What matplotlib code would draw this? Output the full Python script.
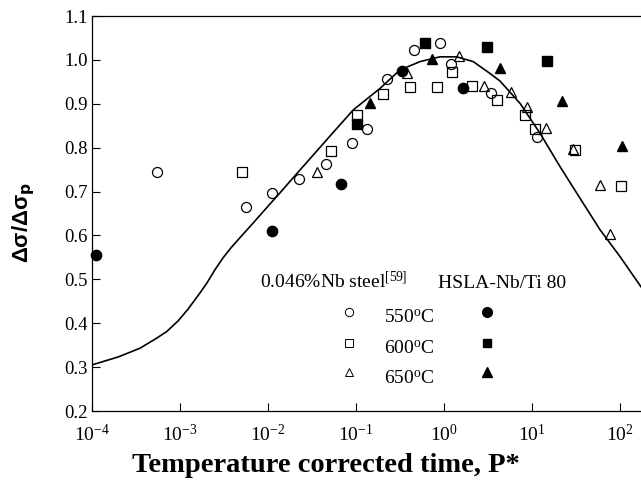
import numpy as np
import matplotlib
matplotlib.use("Agg")
import matplotlib.pyplot as plt
from matplotlib.ticker import FixedLocator, LogFormatterMathtext, NullLocator, FormatStrFormatter

plt.rcParams['font.family'] = ['Liberation Serif', 'DejaVu Serif']
plt.rcParams['mathtext.fontset'] = 'custom'
plt.rcParams['mathtext.rm'] = 'Liberation Serif'
plt.rcParams['mathtext.it'] = 'Liberation Serif:italic'
plt.rcParams['mathtext.bf'] = 'Liberation Serif:bold'

# ---- data: 0.046%Nb steel (open markers) ----
nb550_p = [5.5e-4, 5.6e-3, 0.0112, 0.0223, 0.0453, 0.090, 0.134, 0.227, 0.452, 0.908, 1.20, 3.40, 11.3]
nb550_r = [0.744, 0.664, 0.696, 0.728, 0.762, 0.810, 0.843, 0.956, 1.022, 1.038, 0.991, 0.924, 0.825]

nb600_p = [5.1e-3, 0.0515, 0.1035, 0.204, 0.411, 0.826, 1.23, 2.08, 4.05, 8.3, 10.9, 30.8, 103.5]
nb600_r = [0.744, 0.793, 0.874, 0.923, 0.939, 0.939, 0.973, 0.940, 0.908, 0.874, 0.843, 0.795, 0.713]

nb650_p = [0.036, 0.376, 1.47, 2.85, 5.77, 8.85, 14.4, 29.4, 59.3, 77.0]
nb650_r = [0.744, 0.971, 1.009, 0.941, 0.927, 0.893, 0.845, 0.796, 0.716, 0.603]

# ---- data: HSLA-Nb/Ti 80 (filled markers) ----
hs550_p = [1.1e-4, 0.0111, 0.0676, 0.336, 1.63]
hs550_r = [0.555, 0.610, 0.717, 0.9745, 0.935]

hs600_p = [0.102, 0.614, 3.10, 14.9]
hs600_r = [0.854, 1.0376, 1.0285, 0.997]

hs650_p = [0.144, 0.73, 4.33, 21.9, 105.0]
hs650_r = [0.901, 1.003, 0.982, 0.907, 0.804]

# ---- model curve (log10 P*, ratio) ----
curve_log10p = [-4.0, -3.705, -3.455, -3.265, -3.151, -3.023, -2.909, -2.773, -2.693, -2.602,
                -2.511, -2.42, -2.318, -2.170, -2.011, -1.864, -1.716, -1.5, -1.333,
                -1.182, -1.031, -0.727, -0.5, -0.273, -0.045, 0.144, 0.333, 0.523, 0.636,
                0.864, 1.091, 1.318, 1.545, 1.773, 2.0, 2.239]
curve_r = [0.305, 0.323, 0.343, 0.366, 0.381, 0.405, 0.432, 0.469, 0.492, 0.522,
           0.549, 0.572, 0.595, 0.628, 0.664, 0.697, 0.731, 0.780, 0.818,
           0.852, 0.886, 0.935, 0.977, 0.996, 1.007, 1.007, 0.996, 0.969, 0.952,
           0.901, 0.833, 0.757, 0.685, 0.613, 0.552, 0.483]

xticks = [1e-4, 1e-3, 1e-2, 1e-1, 1e0, 1e1, 1e2]
yticks = [0.2, 0.3, 0.4, 0.5, 0.6, 0.7, 0.8, 0.9, 1.0, 1.1]
series_labels = ['550$^{\\mathrm{o}}$C', '600$^{\\mathrm{o}}$C', '650$^{\\mathrm{o}}$C']

W, H = 641, 487
fig = plt.figure(figsize=(W / 100, H / 100), dpi=100)

def fx(x):
    return x / W

def fy(y):
    return 1 - y / H

ax = fig.add_axes([fx(92), fy(411), fx(641) - fx(92), fy(16) - fy(411)])
ax.set_xscale('log')
ax.set_xlim(1e-4, 10 ** 2.239)
ax.set_ylim(0.2, 1.1)

lw_m = 0.9
ax.plot(nb550_p, nb550_r, 'o', ms=7.2, mfc='none', mec='black', mew=lw_m, clip_on=False)
ax.plot(nb600_p, nb600_r, 's', ms=6.6, mfc='none', mec='black', mew=lw_m, clip_on=False)
ax.plot(nb650_p, nb650_r, '^', ms=7.4, mfc='none', mec='black', mew=lw_m, clip_on=False)
ax.plot(hs550_p, hs550_r, 'o', ms=7.4, mfc='black', mec='black', clip_on=False)
ax.plot(hs600_p, hs600_r, 's', ms=6.8, mfc='black', mec='black', clip_on=False)
ax.plot(hs650_p, hs650_r, '^', ms=7.6, mfc='black', mec='black', clip_on=False)
ax.plot(10 ** np.array(curve_log10p), curve_r, '-', color='black', lw=1.2)

ax.xaxis.set_major_locator(FixedLocator(xticks))
ax.xaxis.set_major_formatter(LogFormatterMathtext())
ax.xaxis.set_minor_locator(NullLocator())
ax.yaxis.set_major_locator(FixedLocator(yticks))
ax.yaxis.set_major_formatter(FormatStrFormatter('%.1f'))
ax.tick_params(axis='x', direction='in', length=5.5, width=0.8, pad=9, labelsize=14)
ax.tick_params(axis='y', direction='in', length=5.5, width=0.8, pad=3, labelsize=13.5)
ax.spines['right'].set_visible(False)
for s in ['left', 'bottom', 'top']:
    ax.spines[s].set_linewidth(0.9)

# axis labels
fig.text(fx(326), fy(466), 'Temperature corrected time, P*', ha='center', va='center',
         fontsize=20.5, fontweight='bold')
fig.text(fx(24), fy(222), 'Δσ/Δσ$_\\mathbf{p}$', rotation=90, ha='center', va='center',
         fontsize=16, fontweight='bold', family=['Liberation Sans', 'DejaVu Sans'],
         math_fontfamily='dejavusans')

# legend (built by hand)
fig.text(fx(260), fy(288), '0.046%Nb steel$^{[59]}$', ha='left', va='baseline', fontsize=14)
fig.text(fx(437.7), fy(288), 'HSLA-Nb/Ti 80', ha='left', va='baseline', fontsize=14)
row_y = [312, 342.7, 372]
base_y = [322.7, 353.3, 383.3]
open_m = ['o', 's', '^']
for i in range(3):
    ax.plot([fx(349)], [fy(row_y[i])], open_m[i], transform=fig.transFigure, ms=6.0 if i != 1 else 5.4,
            mfc='none', mec='black', mew=0.7, clip_on=False)
    ax.plot([fx(487.3)], [fy(row_y[i])], open_m[i], transform=fig.transFigure, ms=7.0 if i != 1 else 6.4,
            mfc='black', mec='black', clip_on=False)
    fig.text(fx(384), fy(base_y[i]), series_labels[i], ha='left', va='baseline', fontsize=14)

fig.savefig('out.png', dpi=100)
